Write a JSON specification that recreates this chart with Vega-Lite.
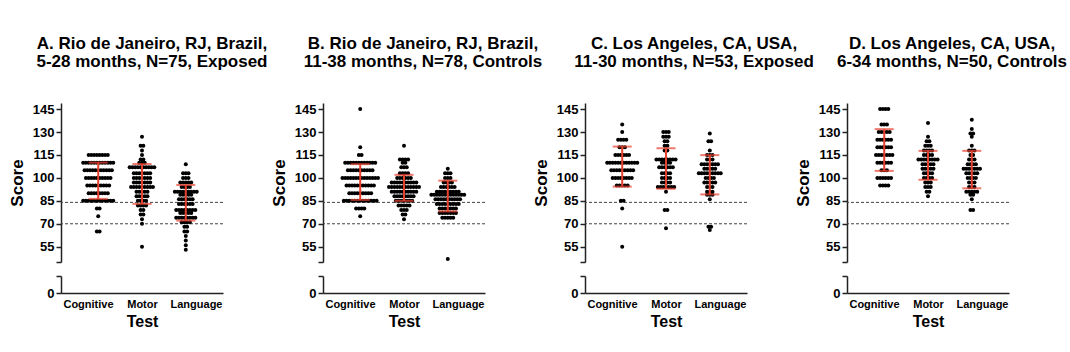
{
"$schema":"https://vega.github.io/schema/vega-lite/v6.json",
"padding":{"left":8,"top":35,"right":2,"bottom":5},
"config":{"font":"Liberation Sans","view":{"stroke":null},
"axis":{"labelFont":"Liberation Sans","labelFontWeight":"bold","labelColor":"#000","titleFont":"Liberation Sans","titleFontWeight":"bold","titleColor":"#000","domainColor":"#222","tickColor":"#222","domainWidth":1.5,"tickWidth":1.5,"grid":false},
"axisY":{"labelFontSize":13,"tickSize":5,"labelPadding":2,"titleFontSize":17,"titlePadding":6},
"axisX":{"labelFontSize":11,"ticks":false,"labelPadding":5,"titleFontSize":16,"titlePadding":4,"labelAngle":0,"labelOverlap":false},
"title":{"font":"Liberation Sans Narrow, Liberation Sans","fontWeight":"bold","fontSize":17,"color":"#000","lineHeight":18,"offset":32,"anchor":"middle","frame":"group"}},
"datasets":{
"refs":[{"y":84},{"y":70}],
"stats":[
{"p":"A","t":"C","lo":86.3,"hi":110},{"p":"A","t":"M","lo":83,"hi":109.1},{"p":"A","t":"L","lo":72.1,"hi":95.4},
{"p":"B","t":"C","lo":85.6,"hi":109},{"p":"B","t":"M","lo":85,"hi":102},{"p":"B","t":"L","lo":78.1,"hi":98.2},
{"p":"C","t":"C","lo":94.3,"hi":120.5},{"p":"C","t":"M","lo":92.9,"hi":119.4},{"p":"C","t":"L","lo":89.2,"hi":114.9},
{"p":"D","t":"C","lo":104.6,"hi":131.9},{"p":"D","t":"M","lo":98.8,"hi":117.7},{"p":"D","t":"L","lo":93.2,"hi":117.7}],
"A":[
{"t":"C","s":115},{"t":"C","s":115},{"t":"C","s":115},{"t":"C","s":115},{"t":"C","s":115},{"t":"C","s":115},{"t":"C","s":115},{"t":"C","s":115},
{"t":"C","s":110},{"t":"C","s":110},{"t":"C","s":110},{"t":"C","s":110},{"t":"C","s":110},{"t":"C","s":110},{"t":"C","s":110},{"t":"C","s":110},{"t":"C","s":110},{"t":"C","s":110},{"t":"C","s":110},{"t":"C","s":110},
{"t":"C","s":105},{"t":"C","s":105},{"t":"C","s":105},{"t":"C","s":105},{"t":"C","s":105},{"t":"C","s":105},{"t":"C","s":105},{"t":"C","s":105},{"t":"C","s":105},{"t":"C","s":105},{"t":"C","s":105},
{"t":"C","s":100},{"t":"C","s":100},{"t":"C","s":100},{"t":"C","s":100},{"t":"C","s":100},{"t":"C","s":100},{"t":"C","s":100},{"t":"C","s":100},{"t":"C","s":100},{"t":"C","s":100},
{"t":"C","s":95},{"t":"C","s":95},{"t":"C","s":95},{"t":"C","s":95},{"t":"C","s":95},{"t":"C","s":95},{"t":"C","s":95},{"t":"C","s":95},{"t":"C","s":95},
{"t":"C","s":90},{"t":"C","s":90},{"t":"C","s":90},{"t":"C","s":90},{"t":"C","s":90},{"t":"C","s":90},{"t":"C","s":90},{"t":"C","s":90},
{"t":"C","s":85},{"t":"C","s":85},{"t":"C","s":85},{"t":"C","s":85},{"t":"C","s":85},{"t":"C","s":85},{"t":"C","s":85},{"t":"C","s":85},{"t":"C","s":85},{"t":"C","s":85},{"t":"C","s":85},{"t":"C","s":85},
{"t":"C","s":80},{"t":"C","s":80},{"t":"C","s":75},{"t":"C","s":65},{"t":"C","s":65},
{"t":"M","s":127},{"t":"M","s":121},{"t":"M","s":121},{"t":"M","s":118},{"t":"M","s":115},{"t":"M","s":112},{"t":"M","s":112},{"t":"M","s":110},{"t":"M","s":110},{"t":"M","s":110},
{"t":"M","s":107},{"t":"M","s":107},{"t":"M","s":107},{"t":"M","s":107},{"t":"M","s":107},{"t":"M","s":107},{"t":"M","s":107},{"t":"M","s":107},{"t":"M","s":107},{"t":"M","s":107},
{"t":"M","s":103},{"t":"M","s":103},{"t":"M","s":103},{"t":"M","s":103},{"t":"M","s":103},{"t":"M","s":103},{"t":"M","s":103},
{"t":"M","s":100},{"t":"M","s":100},{"t":"M","s":100},{"t":"M","s":100},{"t":"M","s":100},{"t":"M","s":100},{"t":"M","s":100},
{"t":"M","s":97},{"t":"M","s":97},{"t":"M","s":97},{"t":"M","s":97},{"t":"M","s":97},{"t":"M","s":97},{"t":"M","s":97},
{"t":"M","s":94},{"t":"M","s":94},{"t":"M","s":94},{"t":"M","s":94},{"t":"M","s":94},{"t":"M","s":94},{"t":"M","s":94},{"t":"M","s":94},{"t":"M","s":94},
{"t":"M","s":91},{"t":"M","s":91},{"t":"M","s":91},{"t":"M","s":91},{"t":"M","s":91},
{"t":"M","s":88},{"t":"M","s":88},{"t":"M","s":88},{"t":"M","s":88},{"t":"M","s":88},
{"t":"M","s":85},{"t":"M","s":85},{"t":"M","s":85},{"t":"M","s":85},
{"t":"M","s":82},{"t":"M","s":82},{"t":"M","s":82},{"t":"M","s":82},
{"t":"M","s":79},{"t":"M","s":79},{"t":"M","s":76},{"t":"M","s":76},{"t":"M","s":73},{"t":"M","s":70},{"t":"M","s":55},
{"t":"L","s":109},{"t":"L","s":103},{"t":"L","s":103},{"t":"L","s":103},{"t":"L","s":100},{"t":"L","s":100},{"t":"L","s":100},
{"t":"L","s":97},{"t":"L","s":97},{"t":"L","s":97},{"t":"L","s":97},{"t":"L","s":97},
{"t":"L","s":94},{"t":"L","s":94},{"t":"L","s":94},{"t":"L","s":94},
{"t":"L","s":91},{"t":"L","s":91},{"t":"L","s":91},{"t":"L","s":91},{"t":"L","s":91},{"t":"L","s":91},{"t":"L","s":91},{"t":"L","s":91},{"t":"L","s":91},
{"t":"L","s":89},{"t":"L","s":89},{"t":"L","s":89},{"t":"L","s":89},{"t":"L","s":89},
{"t":"L","s":86},{"t":"L","s":86},{"t":"L","s":86},{"t":"L","s":86},{"t":"L","s":86},{"t":"L","s":86},
{"t":"L","s":83},{"t":"L","s":83},{"t":"L","s":83},{"t":"L","s":83},{"t":"L","s":83},{"t":"L","s":83},
{"t":"L","s":79},{"t":"L","s":79},{"t":"L","s":79},{"t":"L","s":79},{"t":"L","s":79},{"t":"L","s":79},{"t":"L","s":79},{"t":"L","s":79},
{"t":"L","s":77},{"t":"L","s":77},{"t":"L","s":77},{"t":"L","s":77},{"t":"L","s":77},
{"t":"L","s":74},{"t":"L","s":74},{"t":"L","s":74},{"t":"L","s":74},{"t":"L","s":74},{"t":"L","s":74},{"t":"L","s":74},{"t":"L","s":74},
{"t":"L","s":71},{"t":"L","s":71},{"t":"L","s":71},{"t":"L","s":71},
{"t":"L","s":68},{"t":"L","s":68},{"t":"L","s":65},{"t":"L","s":65},{"t":"L","s":62},{"t":"L","s":59},{"t":"L","s":56},{"t":"L","s":53}],
"B":[
{"t":"C","s":145},{"t":"C","s":120},{"t":"C","s":115},{"t":"C","s":115},
{"t":"C","s":110},{"t":"C","s":110},{"t":"C","s":110},{"t":"C","s":110},{"t":"C","s":110},{"t":"C","s":110},{"t":"C","s":110},{"t":"C","s":110},{"t":"C","s":110},{"t":"C","s":110},{"t":"C","s":110},{"t":"C","s":110},
{"t":"C","s":105},{"t":"C","s":105},{"t":"C","s":105},{"t":"C","s":105},{"t":"C","s":105},{"t":"C","s":105},{"t":"C","s":105},{"t":"C","s":105},{"t":"C","s":105},{"t":"C","s":105},
{"t":"C","s":100},{"t":"C","s":100},{"t":"C","s":100},{"t":"C","s":100},{"t":"C","s":100},{"t":"C","s":100},{"t":"C","s":100},{"t":"C","s":100},{"t":"C","s":100},{"t":"C","s":100},{"t":"C","s":100},{"t":"C","s":100},{"t":"C","s":100},{"t":"C","s":100},
{"t":"C","s":95},{"t":"C","s":95},{"t":"C","s":95},{"t":"C","s":95},{"t":"C","s":95},{"t":"C","s":95},{"t":"C","s":95},{"t":"C","s":95},{"t":"C","s":95},{"t":"C","s":95},{"t":"C","s":95},
{"t":"C","s":90},{"t":"C","s":90},{"t":"C","s":90},{"t":"C","s":90},{"t":"C","s":90},{"t":"C","s":90},{"t":"C","s":90},{"t":"C","s":90},{"t":"C","s":90},
{"t":"C","s":85},{"t":"C","s":85},{"t":"C","s":85},{"t":"C","s":85},{"t":"C","s":85},{"t":"C","s":85},{"t":"C","s":85},{"t":"C","s":85},{"t":"C","s":85},{"t":"C","s":85},{"t":"C","s":85},{"t":"C","s":85},{"t":"C","s":85},
{"t":"C","s":80},{"t":"C","s":80},{"t":"C","s":80},{"t":"C","s":80},{"t":"C","s":75},
{"t":"M","s":121},{"t":"M","s":112},{"t":"M","s":112},{"t":"M","s":112},{"t":"M","s":112},{"t":"M","s":110},{"t":"M","s":110},
{"t":"M","s":107},{"t":"M","s":107},{"t":"M","s":107},{"t":"M","s":103},{"t":"M","s":103},{"t":"M","s":103},{"t":"M","s":103},
{"t":"M","s":100},{"t":"M","s":100},{"t":"M","s":100},{"t":"M","s":100},{"t":"M","s":100},{"t":"M","s":100},
{"t":"M","s":97},{"t":"M","s":97},{"t":"M","s":97},{"t":"M","s":97},{"t":"M","s":97},{"t":"M","s":97},{"t":"M","s":97},{"t":"M","s":97},{"t":"M","s":97},{"t":"M","s":97},
{"t":"M","s":94},{"t":"M","s":94},{"t":"M","s":94},{"t":"M","s":94},{"t":"M","s":94},{"t":"M","s":94},{"t":"M","s":94},{"t":"M","s":94},{"t":"M","s":94},{"t":"M","s":94},{"t":"M","s":94},{"t":"M","s":94},
{"t":"M","s":91},{"t":"M","s":91},{"t":"M","s":91},{"t":"M","s":91},{"t":"M","s":91},{"t":"M","s":91},{"t":"M","s":91},{"t":"M","s":91},{"t":"M","s":91},{"t":"M","s":91},
{"t":"M","s":88},{"t":"M","s":88},{"t":"M","s":88},{"t":"M","s":88},{"t":"M","s":88},{"t":"M","s":88},{"t":"M","s":88},{"t":"M","s":88},
{"t":"M","s":85},{"t":"M","s":85},{"t":"M","s":85},{"t":"M","s":85},{"t":"M","s":85},{"t":"M","s":85},{"t":"M","s":85},
{"t":"M","s":82},{"t":"M","s":82},{"t":"M","s":82},{"t":"M","s":82},{"t":"M","s":82},
{"t":"M","s":79},{"t":"M","s":79},{"t":"M","s":79},{"t":"M","s":76},{"t":"M","s":76},{"t":"M","s":73},
{"t":"L","s":106},{"t":"L","s":103},{"t":"L","s":103},{"t":"L","s":103},{"t":"L","s":100},{"t":"L","s":100},{"t":"L","s":100},
{"t":"L","s":97},{"t":"L","s":97},{"t":"L","s":97},{"t":"L","s":97},
{"t":"L","s":94},{"t":"L","s":94},{"t":"L","s":94},{"t":"L","s":94},{"t":"L","s":94},{"t":"L","s":94},
{"t":"L","s":91},{"t":"L","s":91},{"t":"L","s":91},{"t":"L","s":91},{"t":"L","s":91},{"t":"L","s":91},{"t":"L","s":91},{"t":"L","s":91},{"t":"L","s":91},
{"t":"L","s":89},{"t":"L","s":89},{"t":"L","s":89},{"t":"L","s":89},{"t":"L","s":89},{"t":"L","s":89},{"t":"L","s":89},{"t":"L","s":89},{"t":"L","s":89},{"t":"L","s":89},{"t":"L","s":89},{"t":"L","s":89},{"t":"L","s":89},
{"t":"L","s":86},{"t":"L","s":86},{"t":"L","s":86},{"t":"L","s":86},{"t":"L","s":86},{"t":"L","s":86},{"t":"L","s":86},{"t":"L","s":86},{"t":"L","s":86},{"t":"L","s":86},
{"t":"L","s":83},{"t":"L","s":83},{"t":"L","s":83},{"t":"L","s":83},{"t":"L","s":83},{"t":"L","s":83},{"t":"L","s":83},{"t":"L","s":83},{"t":"L","s":83},
{"t":"L","s":80},{"t":"L","s":80},{"t":"L","s":80},{"t":"L","s":80},{"t":"L","s":80},{"t":"L","s":80},{"t":"L","s":80},
{"t":"L","s":77},{"t":"L","s":77},{"t":"L","s":77},{"t":"L","s":77},{"t":"L","s":77},{"t":"L","s":77},{"t":"L","s":77},
{"t":"L","s":74},{"t":"L","s":74},{"t":"L","s":74},{"t":"L","s":74},{"t":"L","s":74},{"t":"L","s":47}],
"C":[
{"t":"C","s":135},{"t":"C","s":130},{"t":"C","s":125},{"t":"C","s":125},{"t":"C","s":125},{"t":"C","s":125},{"t":"C","s":120},{"t":"C","s":120},{"t":"C","s":120},
{"t":"C","s":115},{"t":"C","s":115},{"t":"C","s":115},{"t":"C","s":115},{"t":"C","s":115},{"t":"C","s":115},
{"t":"C","s":110},{"t":"C","s":110},{"t":"C","s":110},{"t":"C","s":110},{"t":"C","s":110},{"t":"C","s":110},{"t":"C","s":110},{"t":"C","s":110},{"t":"C","s":110},{"t":"C","s":110},{"t":"C","s":110},{"t":"C","s":110},
{"t":"C","s":105},{"t":"C","s":105},{"t":"C","s":105},{"t":"C","s":105},{"t":"C","s":105},{"t":"C","s":105},{"t":"C","s":105},{"t":"C","s":105},{"t":"C","s":105},
{"t":"C","s":100},{"t":"C","s":100},{"t":"C","s":100},{"t":"C","s":100},{"t":"C","s":100},{"t":"C","s":100},{"t":"C","s":100},{"t":"C","s":100},
{"t":"C","s":95},{"t":"C","s":95},{"t":"C","s":95},{"t":"C","s":95},{"t":"C","s":95},{"t":"C","s":85},{"t":"C","s":85},{"t":"C","s":80},{"t":"C","s":55},
{"t":"M","s":130},{"t":"M","s":130},{"t":"M","s":130},{"t":"M","s":127},{"t":"M","s":127},{"t":"M","s":127},{"t":"M","s":124},{"t":"M","s":124},{"t":"M","s":121},{"t":"M","s":121},{"t":"M","s":118},{"t":"M","s":118},
{"t":"M","s":112},{"t":"M","s":112},{"t":"M","s":112},{"t":"M","s":112},{"t":"M","s":112},{"t":"M","s":112},{"t":"M","s":112},{"t":"M","s":112},
{"t":"M","s":110},{"t":"M","s":110},{"t":"M","s":110},{"t":"M","s":110},
{"t":"M","s":107},{"t":"M","s":107},{"t":"M","s":107},{"t":"M","s":107},{"t":"M","s":107},{"t":"M","s":107},
{"t":"M","s":103},{"t":"M","s":103},{"t":"M","s":103},{"t":"M","s":103},{"t":"M","s":100},{"t":"M","s":100},{"t":"M","s":100},{"t":"M","s":100},
{"t":"M","s":97},{"t":"M","s":97},{"t":"M","s":97},{"t":"M","s":97},
{"t":"M","s":94},{"t":"M","s":94},{"t":"M","s":94},{"t":"M","s":94},{"t":"M","s":94},{"t":"M","s":94},{"t":"M","s":94},
{"t":"M","s":91},{"t":"M","s":79},{"t":"M","s":79},{"t":"M","s":67},
{"t":"L","s":129},{"t":"L","s":124},{"t":"L","s":124},{"t":"L","s":118},{"t":"L","s":115},{"t":"L","s":115},{"t":"L","s":115},{"t":"L","s":112},{"t":"L","s":112},{"t":"L","s":112},
{"t":"L","s":109},{"t":"L","s":109},{"t":"L","s":109},{"t":"L","s":109},{"t":"L","s":109},{"t":"L","s":109},{"t":"L","s":109},
{"t":"L","s":106},{"t":"L","s":106},{"t":"L","s":106},{"t":"L","s":106},{"t":"L","s":106},
{"t":"L","s":103},{"t":"L","s":103},{"t":"L","s":103},{"t":"L","s":103},{"t":"L","s":103},{"t":"L","s":103},{"t":"L","s":103},{"t":"L","s":103},{"t":"L","s":103},
{"t":"L","s":100},{"t":"L","s":100},{"t":"L","s":100},{"t":"L","s":100},
{"t":"L","s":97},{"t":"L","s":97},{"t":"L","s":97},{"t":"L","s":97},{"t":"L","s":97},
{"t":"L","s":94},{"t":"L","s":94},{"t":"L","s":94},{"t":"L","s":91},{"t":"L","s":91},{"t":"L","s":91},{"t":"L","s":89},{"t":"L","s":89},{"t":"L","s":89},{"t":"L","s":86},
{"t":"L","s":68},{"t":"L","s":68},{"t":"L","s":66}],
"D":[
{"t":"C","s":145},{"t":"C","s":145},{"t":"C","s":145},{"t":"C","s":145},{"t":"C","s":135},{"t":"C","s":135},{"t":"C","s":135},
{"t":"C","s":130},{"t":"C","s":130},{"t":"C","s":130},{"t":"C","s":130},{"t":"C","s":130},
{"t":"C","s":125},{"t":"C","s":125},{"t":"C","s":125},{"t":"C","s":125},{"t":"C","s":125},{"t":"C","s":125},
{"t":"C","s":120},{"t":"C","s":120},{"t":"C","s":120},{"t":"C","s":120},{"t":"C","s":120},{"t":"C","s":120},
{"t":"C","s":115},{"t":"C","s":115},{"t":"C","s":115},{"t":"C","s":115},{"t":"C","s":115},{"t":"C","s":115},{"t":"C","s":115},
{"t":"C","s":110},{"t":"C","s":110},{"t":"C","s":110},{"t":"C","s":110},{"t":"C","s":110},{"t":"C","s":110},
{"t":"C","s":105},{"t":"C","s":105},{"t":"C","s":105},
{"t":"C","s":100},{"t":"C","s":100},{"t":"C","s":100},{"t":"C","s":100},{"t":"C","s":100},{"t":"C","s":100},
{"t":"C","s":95},{"t":"C","s":95},{"t":"C","s":95},{"t":"C","s":95},
{"t":"M","s":136},{"t":"M","s":127},{"t":"M","s":124},{"t":"M","s":124},{"t":"M","s":121},{"t":"M","s":121},{"t":"M","s":121},
{"t":"M","s":118},{"t":"M","s":118},{"t":"M","s":118},{"t":"M","s":118},{"t":"M","s":115},{"t":"M","s":115},{"t":"M","s":115},{"t":"M","s":115},
{"t":"M","s":112},{"t":"M","s":112},{"t":"M","s":112},{"t":"M","s":112},{"t":"M","s":112},{"t":"M","s":112},{"t":"M","s":112},{"t":"M","s":112},
{"t":"M","s":109},{"t":"M","s":109},{"t":"M","s":109},{"t":"M","s":109},{"t":"M","s":109},
{"t":"M","s":106},{"t":"M","s":106},{"t":"M","s":106},{"t":"M","s":106},{"t":"M","s":106},
{"t":"M","s":103},{"t":"M","s":103},{"t":"M","s":103},{"t":"M","s":103},{"t":"M","s":100},{"t":"M","s":100},{"t":"M","s":100},{"t":"M","s":100},
{"t":"M","s":97},{"t":"M","s":97},{"t":"M","s":97},{"t":"M","s":94},{"t":"M","s":94},{"t":"M","s":94},{"t":"M","s":91},{"t":"M","s":91},{"t":"M","s":88},
{"t":"L","s":138},{"t":"L","s":132},{"t":"L","s":129},{"t":"L","s":129},{"t":"L","s":127},{"t":"L","s":121},{"t":"L","s":118},{"t":"L","s":118},{"t":"L","s":118},
{"t":"L","s":115},{"t":"L","s":115},{"t":"L","s":112},{"t":"L","s":112},{"t":"L","s":112},{"t":"L","s":109},{"t":"L","s":109},{"t":"L","s":109},{"t":"L","s":109},
{"t":"L","s":106},{"t":"L","s":106},{"t":"L","s":106},{"t":"L","s":106},{"t":"L","s":106},{"t":"L","s":106},{"t":"L","s":106},
{"t":"L","s":103},{"t":"L","s":103},{"t":"L","s":103},{"t":"L","s":103},{"t":"L","s":103},
{"t":"L","s":100},{"t":"L","s":100},{"t":"L","s":100},{"t":"L","s":100},{"t":"L","s":97},{"t":"L","s":97},{"t":"L","s":97},{"t":"L","s":94},{"t":"L","s":94},{"t":"L","s":94},
{"t":"L","s":91},{"t":"L","s":91},{"t":"L","s":91},{"t":"L","s":91},{"t":"L","s":91},{"t":"L","s":89},{"t":"L","s":89},{"t":"L","s":86},{"t":"L","s":79},{"t":"L","s":79}]
},
"spacing":12,
"vconcat":[
{"spacing":100,"bounds":"flush","hconcat":[
{"title":{"text":["A. Rio de Janeiro,  RJ,  Brazil,","5-28 months, N=75, Exposed"],"dx":10},
"width":162,"height":159,"layer":[
{"data":{"name":"refs"},"mark":{"type":"rule","strokeDash":[3,2],"color":"#444","strokeWidth":1},"encoding":{"y":{"field":"y","type":"quantitative","scale":{"domain":[45,149],"nice":false,"zero":false},"axis":{"title":"Score","values":[45,55,70,85,100,115,130,145],"labelExpr":"datum.value == 45 ? '' : datum.label"}}}},
{"data":{"name":"A"},"transform":[{"window":[{"op":"row_number","as":"r"}],"groupby":["t","s"]},{"joinaggregate":[{"op":"count","as":"n"}],"groupby":["t","s"]},{"calculate":"datum.r - (datum.n + 1) / 2","as":"off"}],
"mark":{"type":"circle","size":16,"opacity":1,"color":"#000"},
"encoding":{"x":{"field":"t","type":"nominal","scale":{"domain":["C","M","L"],"paddingInner":0,"paddingOuter":0.35},"axis":null},
"xOffset":{"field":"off","type":"quantitative","scale":{"domain":[-7,7]}},
"y":{"field":"s","type":"quantitative","scale":{"domain":[45,149],"nice":false,"zero":false},"axis":{"title":"Score","values":[45,55,70,85,100,115,130,145],"labelExpr":"datum.value == 45 ? '' : datum.label"}}}},
{"data":{"name":"stats"},"transform":[{"filter":"datum.p == 'A'"}],"mark":{"type":"rule","color":"#e8402e","strokeWidth":2},
"encoding":{"x":{"field":"t","type":"nominal","scale":{"domain":["C","M","L"],"paddingInner":0,"paddingOuter":0.35},"axis":null},"y":{"field":"lo","type":"quantitative","scale":{"domain":[45,149],"nice":false,"zero":false},"axis":{"title":"Score","values":[45,55,70,85,100,115,130,145],"labelExpr":"datum.value == 45 ? '' : datum.label"}},"y2":{"field":"hi"}}},
{"data":{"name":"stats"},"transform":[{"filter":"datum.p == 'A'"},{"fold":["lo","hi"],"as":["k","v"]}],"mark":{"type":"tick","color":"#e8402e","thickness":2,"size":19},
"encoding":{"x":{"field":"t","type":"nominal","scale":{"domain":["C","M","L"],"paddingInner":0,"paddingOuter":0.35},"axis":null},"y":{"field":"v","type":"quantitative","scale":{"domain":[45,149],"nice":false,"zero":false},"axis":{"title":"Score","values":[45,55,70,85,100,115,130,145],"labelExpr":"datum.value == 45 ? '' : datum.label"}}}}
]},
{"title":{"text":["B. Rio de Janeiro,  RJ,  Brazil,","11-38 months, N=78,  Controls"],"dx":19},
"width":162,"height":159,"layer":[
{"data":{"name":"refs"},"mark":{"type":"rule","strokeDash":[3,2],"color":"#444","strokeWidth":1},"encoding":{"y":{"field":"y","type":"quantitative","scale":{"domain":[45,149],"nice":false,"zero":false},"axis":{"title":"Score","values":[45,55,70,85,100,115,130,145],"labelExpr":"datum.value == 45 ? '' : datum.label"}}}},
{"data":{"name":"B"},"transform":[{"window":[{"op":"row_number","as":"r"}],"groupby":["t","s"]},{"joinaggregate":[{"op":"count","as":"n"}],"groupby":["t","s"]},{"calculate":"datum.r - (datum.n + 1) / 2","as":"off"}],
"mark":{"type":"circle","size":16,"opacity":1,"color":"#000"},
"encoding":{"x":{"field":"t","type":"nominal","scale":{"domain":["C","M","L"],"paddingInner":0,"paddingOuter":0.35},"axis":null},
"xOffset":{"field":"off","type":"quantitative","scale":{"domain":[-8,8]}},
"y":{"field":"s","type":"quantitative","scale":{"domain":[45,149],"nice":false,"zero":false},"axis":{"title":"Score","values":[45,55,70,85,100,115,130,145],"labelExpr":"datum.value == 45 ? '' : datum.label"}}}},
{"data":{"name":"stats"},"transform":[{"filter":"datum.p == 'B'"}],"mark":{"type":"rule","color":"#e8402e","strokeWidth":2},
"encoding":{"x":{"field":"t","type":"nominal","scale":{"domain":["C","M","L"],"paddingInner":0,"paddingOuter":0.35},"axis":null},"y":{"field":"lo","type":"quantitative","scale":{"domain":[45,149],"nice":false,"zero":false},"axis":{"title":"Score","values":[45,55,70,85,100,115,130,145],"labelExpr":"datum.value == 45 ? '' : datum.label"}},"y2":{"field":"hi"}}},
{"data":{"name":"stats"},"transform":[{"filter":"datum.p == 'B'"},{"fold":["lo","hi"],"as":["k","v"]}],"mark":{"type":"tick","color":"#e8402e","thickness":2,"size":19},
"encoding":{"x":{"field":"t","type":"nominal","scale":{"domain":["C","M","L"],"paddingInner":0,"paddingOuter":0.35},"axis":null},"y":{"field":"v","type":"quantitative","scale":{"domain":[45,149],"nice":false,"zero":false},"axis":{"title":"Score","values":[45,55,70,85,100,115,130,145],"labelExpr":"datum.value == 45 ? '' : datum.label"}}}}
]},
{"title":{"text":["C. Los Angeles,  CA,  USA,","11-30 months, N=53,  Exposed"],"dx":28},
"width":162,"height":159,"layer":[
{"data":{"name":"refs"},"mark":{"type":"rule","strokeDash":[3,2],"color":"#444","strokeWidth":1},"encoding":{"y":{"field":"y","type":"quantitative","scale":{"domain":[45,149],"nice":false,"zero":false},"axis":{"title":"Score","values":[45,55,70,85,100,115,130,145],"labelExpr":"datum.value == 45 ? '' : datum.label"}}}},
{"data":{"name":"C"},"transform":[{"window":[{"op":"row_number","as":"r"}],"groupby":["t","s"]},{"joinaggregate":[{"op":"count","as":"n"}],"groupby":["t","s"]},{"calculate":"datum.r - (datum.n + 1) / 2","as":"off"}],
"mark":{"type":"circle","size":16,"opacity":1,"color":"#000"},
"encoding":{"x":{"field":"t","type":"nominal","scale":{"domain":["C","M","L"],"paddingInner":0,"paddingOuter":0.35},"axis":null},
"xOffset":{"field":"off","type":"quantitative","scale":{"domain":[-6.5,6.5]}},
"y":{"field":"s","type":"quantitative","scale":{"domain":[45,149],"nice":false,"zero":false},"axis":{"title":"Score","values":[45,55,70,85,100,115,130,145],"labelExpr":"datum.value == 45 ? '' : datum.label"}}}},
{"data":{"name":"stats"},"transform":[{"filter":"datum.p == 'C'"}],"mark":{"type":"rule","color":"#e8402e","strokeWidth":2},
"encoding":{"x":{"field":"t","type":"nominal","scale":{"domain":["C","M","L"],"paddingInner":0,"paddingOuter":0.35},"axis":null},"y":{"field":"lo","type":"quantitative","scale":{"domain":[45,149],"nice":false,"zero":false},"axis":{"title":"Score","values":[45,55,70,85,100,115,130,145],"labelExpr":"datum.value == 45 ? '' : datum.label"}},"y2":{"field":"hi"}}},
{"data":{"name":"stats"},"transform":[{"filter":"datum.p == 'C'"},{"fold":["lo","hi"],"as":["k","v"]}],"mark":{"type":"tick","color":"#e8402e","thickness":2,"size":19},
"encoding":{"x":{"field":"t","type":"nominal","scale":{"domain":["C","M","L"],"paddingInner":0,"paddingOuter":0.35},"axis":null},"y":{"field":"v","type":"quantitative","scale":{"domain":[45,149],"nice":false,"zero":false},"axis":{"title":"Score","values":[45,55,70,85,100,115,130,145],"labelExpr":"datum.value == 45 ? '' : datum.label"}}}}
]},
{"title":{"text":["D. Los Angeles,  CA,  USA,","6-34 months, N=50, Controls"],"dx":24},
"width":162,"height":159,"layer":[
{"data":{"name":"refs"},"mark":{"type":"rule","strokeDash":[3,2],"color":"#444","strokeWidth":1},"encoding":{"y":{"field":"y","type":"quantitative","scale":{"domain":[45,149],"nice":false,"zero":false},"axis":{"title":"Score","values":[45,55,70,85,100,115,130,145],"labelExpr":"datum.value == 45 ? '' : datum.label"}}}},
{"data":{"name":"D"},"transform":[{"window":[{"op":"row_number","as":"r"}],"groupby":["t","s"]},{"joinaggregate":[{"op":"count","as":"n"}],"groupby":["t","s"]},{"calculate":"datum.r - (datum.n + 1) / 2","as":"off"}],
"mark":{"type":"circle","size":16,"opacity":1,"color":"#000"},
"encoding":{"x":{"field":"t","type":"nominal","scale":{"domain":["C","M","L"],"paddingInner":0,"paddingOuter":0.35},"axis":null},
"xOffset":{"field":"off","type":"quantitative","scale":{"domain":[-4.2,4.2]}},
"y":{"field":"s","type":"quantitative","scale":{"domain":[45,149],"nice":false,"zero":false},"axis":{"title":"Score","values":[45,55,70,85,100,115,130,145],"labelExpr":"datum.value == 45 ? '' : datum.label"}}}},
{"data":{"name":"stats"},"transform":[{"filter":"datum.p == 'D'"}],"mark":{"type":"rule","color":"#e8402e","strokeWidth":2},
"encoding":{"x":{"field":"t","type":"nominal","scale":{"domain":["C","M","L"],"paddingInner":0,"paddingOuter":0.35},"axis":null},"y":{"field":"lo","type":"quantitative","scale":{"domain":[45,149],"nice":false,"zero":false},"axis":{"title":"Score","values":[45,55,70,85,100,115,130,145],"labelExpr":"datum.value == 45 ? '' : datum.label"}},"y2":{"field":"hi"}}},
{"data":{"name":"stats"},"transform":[{"filter":"datum.p == 'D'"},{"fold":["lo","hi"],"as":["k","v"]}],"mark":{"type":"tick","color":"#e8402e","thickness":2,"size":19},
"encoding":{"x":{"field":"t","type":"nominal","scale":{"domain":["C","M","L"],"paddingInner":0,"paddingOuter":0.35},"axis":null},"y":{"field":"v","type":"quantitative","scale":{"domain":[45,149],"nice":false,"zero":false},"axis":{"title":"Score","values":[45,55,70,85,100,115,130,145],"labelExpr":"datum.value == 45 ? '' : datum.label"}}}}
]}
]},
{"spacing":100,"bounds":"flush","hconcat":[
{"width":162,"height":17,"data":{"name":"A"},"transform":[{"filter":"datum.s < 0"}],"mark":"point",
"encoding":{"x":{"field":"t","type":"nominal","scale":{"domain":["C","M","L"],"paddingInner":0,"paddingOuter":0.35},"axis":{"title":"Test","labelExpr":"datum.value == 'C' ? 'Cognitive' : datum.value == 'M' ? 'Motor' : 'Language'"}},
"y":{"field":"s","type":"quantitative","scale":{"domain":[0,11],"nice":false,"zero":false},"axis":{"title":null,"values":[0,11],"labelExpr":"datum.value == 0 ? '0' : ''"}}}},
{"width":162,"height":17,"data":{"name":"B"},"transform":[{"filter":"datum.s < 0"}],"mark":"point",
"encoding":{"x":{"field":"t","type":"nominal","scale":{"domain":["C","M","L"],"paddingInner":0,"paddingOuter":0.35},"axis":{"title":"Test","labelExpr":"datum.value == 'C' ? 'Cognitive' : datum.value == 'M' ? 'Motor' : 'Language'"}},
"y":{"field":"s","type":"quantitative","scale":{"domain":[0,11],"nice":false,"zero":false},"axis":{"title":null,"values":[0,11],"labelExpr":"datum.value == 0 ? '0' : ''"}}}},
{"width":162,"height":17,"data":{"name":"C"},"transform":[{"filter":"datum.s < 0"}],"mark":"point",
"encoding":{"x":{"field":"t","type":"nominal","scale":{"domain":["C","M","L"],"paddingInner":0,"paddingOuter":0.35},"axis":{"title":"Test","labelExpr":"datum.value == 'C' ? 'Cognitive' : datum.value == 'M' ? 'Motor' : 'Language'"}},
"y":{"field":"s","type":"quantitative","scale":{"domain":[0,11],"nice":false,"zero":false},"axis":{"title":null,"values":[0,11],"labelExpr":"datum.value == 0 ? '0' : ''"}}}},
{"width":162,"height":17,"data":{"name":"D"},"transform":[{"filter":"datum.s < 0"}],"mark":"point",
"encoding":{"x":{"field":"t","type":"nominal","scale":{"domain":["C","M","L"],"paddingInner":0,"paddingOuter":0.35},"axis":{"title":"Test","labelExpr":"datum.value == 'C' ? 'Cognitive' : datum.value == 'M' ? 'Motor' : 'Language'"}},
"y":{"field":"s","type":"quantitative","scale":{"domain":[0,11],"nice":false,"zero":false},"axis":{"title":null,"values":[0,11],"labelExpr":"datum.value == 0 ? '0' : ''"}}}}
]}
]
}
